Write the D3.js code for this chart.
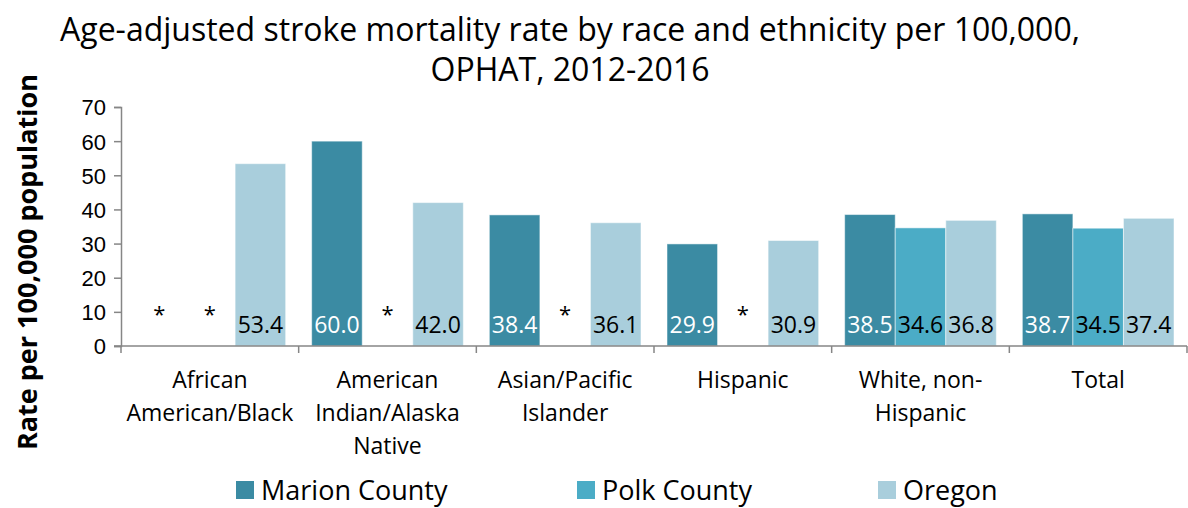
<!DOCTYPE html>
<html>
<head>
<meta charset="utf-8">
<script src="https://cdn.jsdelivr.net/npm/d3@7"></script>
<style>
  body { margin: 0; background: #fff; }
  svg { font-family: "Open Sans", "Noto Sans", sans-serif; }
</style>
</head>
<body>
<div id="chart"></div>
<script>
const categories = [
  ["African", "American/Black"],
  ["American", "Indian/Alaska", "Native"],
  ["Asian/Pacific", "Islander"],
  ["Hispanic"],
  ["White, non-", "Hispanic"],
  ["Total"]
];
const seriesNames = ["Marion County", "Polk County", "Oregon"];
// null = suppressed (shown as *)
const marion = [null, 60.0, 38.4, 29.9, 38.5, 38.7];
const polk = [null, null, null, null, 34.6, 34.5];
const oregon = [53.4, 42.0, 36.1, 30.9, 36.8, 37.4];
const yTicks = [0, 10, 20, 30, 40, 50, 60, 70];

const colors = ["#3B8BA3", "#4BACC6", "#A9CEDC"];
const labelColors = ["#ffffff", "#000000", "#000000"];

const W = 1188, H = 508;
const margin = { top: 107, right: 1, bottom: 162, left: 121 };
const width = W - margin.left - margin.right;
const height = H - margin.top - margin.bottom;

const svg = d3.select("#chart").append("svg")
  .attr("width", W)
  .attr("height", H);

// title
svg.append("text")
  .attr("x", 570).attr("y", 41)
  .attr("text-anchor", "middle")
  .style("font-size", "32px")
  .attr("fill", "#000")
  .text("Age-adjusted stroke mortality rate by race and ethnicity per 100,000,");
svg.append("text")
  .attr("x", 570).attr("y", 81)
  .attr("text-anchor", "middle")
  .style("font-size", "32px")
  .attr("fill", "#000")
  .text("OPHAT, 2012-2016");

// y axis title
svg.append("text")
  .attr("transform", "translate(37, 262) rotate(-90)")
  .attr("text-anchor", "middle")
  .style("font-size", "27px")
  .style("font-weight", "bold")
  .text("Rate per 100,000 population");

const g = svg.append("g")
  .attr("transform", `translate(${margin.left}, ${margin.top})`);

const x0 = d3.scaleBand()
  .domain(d3.range(categories.length))
  .range([0, width]);

const x1 = d3.scaleBand()
  .domain(d3.range(seriesNames.length))
  .range([13, x0.bandwidth() - 13]);

const y = d3.scaleLinear()
  .domain([0, 70])
  .range([height, 0]);

const series = [marion, polk, oregon];
const data = [];
series.forEach((vals, s) => {
  vals.forEach((v, c) => data.push({ s, c, v }));
});

// bars
g.selectAll(".bar")
  .data(data.filter(d => d.v !== null))
  .enter().append("rect")
  .attr("class", "bar")
  .attr("x", d => x0(d.c) + x1(d.s))
  .attr("y", d => y(d.v))
  .attr("width", x1.bandwidth())
  .attr("height", d => y(0) - y(d.v))
  .attr("fill", d => colors[d.s])
  .attr("stroke", "#ffffff")
  .attr("stroke-opacity", 0.5)
  .attr("stroke-width", 1);

// value labels near the bottom of each bar
g.selectAll(".bar-label")
  .data(data)
  .enter().append("text")
  .attr("class", "bar-label")
  .attr("x", d => x0(d.c) + x1(d.s) + x1.bandwidth() / 2)
  .attr("y", d => d.v === null ? y(7.0) : y(3.8))
  .attr("text-anchor", "middle")
  .style("font-size", d => d.v === null ? "22px" : "23px")
  .attr("fill", d => d.v === null ? "#000" : labelColors[d.s])
  .text(d => d.v === null ? "*" : d.v.toFixed(1));

// y axis
const yAxis = g.append("g")
  .call(d3.axisLeft(y).tickValues(yTicks).tickSize(7).tickPadding(8));
yAxis.select(".domain").attr("stroke", "#868686").attr("stroke-width", 1.5);
yAxis.selectAll(".tick line").attr("stroke", "#868686").attr("stroke-width", 1.5);
yAxis.selectAll(".tick text")
  .style("font-size", "22px")
  .attr("dy", "0.36em")
  .attr("fill", "#000");

// x axis
const xAxisG = g.append("g")
  .attr("transform", `translate(0, ${height})`);
xAxisG.append("line")
  .attr("x1", -7).attr("x2", width)
  .attr("stroke", "#868686").attr("stroke-width", 1.5);
xAxisG.selectAll(".xtick")
  .data(d3.range(categories.length + 1))
  .enter().append("line")
  .attr("x1", i => i < categories.length ? x0(i) : width)
  .attr("x2", i => i < categories.length ? x0(i) : width)
  .attr("y1", 0).attr("y2", 7)
  .attr("stroke", "#868686").attr("stroke-width", 1.5);

const catLabels = xAxisG.selectAll(".cat")
  .data(categories)
  .enter().append("text")
  .attr("class", "cat")
  .attr("text-anchor", "middle")
  .style("font-size", "23px")
  .attr("fill", "#000");
catLabels.each(function (lines, i) {
  const t = d3.select(this);
  lines.forEach((ln, k) => {
    t.append("tspan")
      .attr("x", x0(i) + x0.bandwidth() / 2)
      .attr("y", 42 + k * 33)
      .text(ln);
  });
});

// legend
const legendX = [236, 577, 878];
const legend = svg.selectAll(".legend")
  .data(seriesNames)
  .enter().append("g")
  .attr("class", "legend")
  .attr("transform", (d, i) => `translate(${legendX[i]}, 481)`);
legend.append("rect")
  .attr("width", 18).attr("height", 18)
  .attr("fill", (d, i) => colors[i]);
legend.append("text")
  .attr("x", 25).attr("y", 19)
  .style("font-size", "27px")
  .attr("fill", "#000")
  .text(d => d);
</script>
</body>
</html>
